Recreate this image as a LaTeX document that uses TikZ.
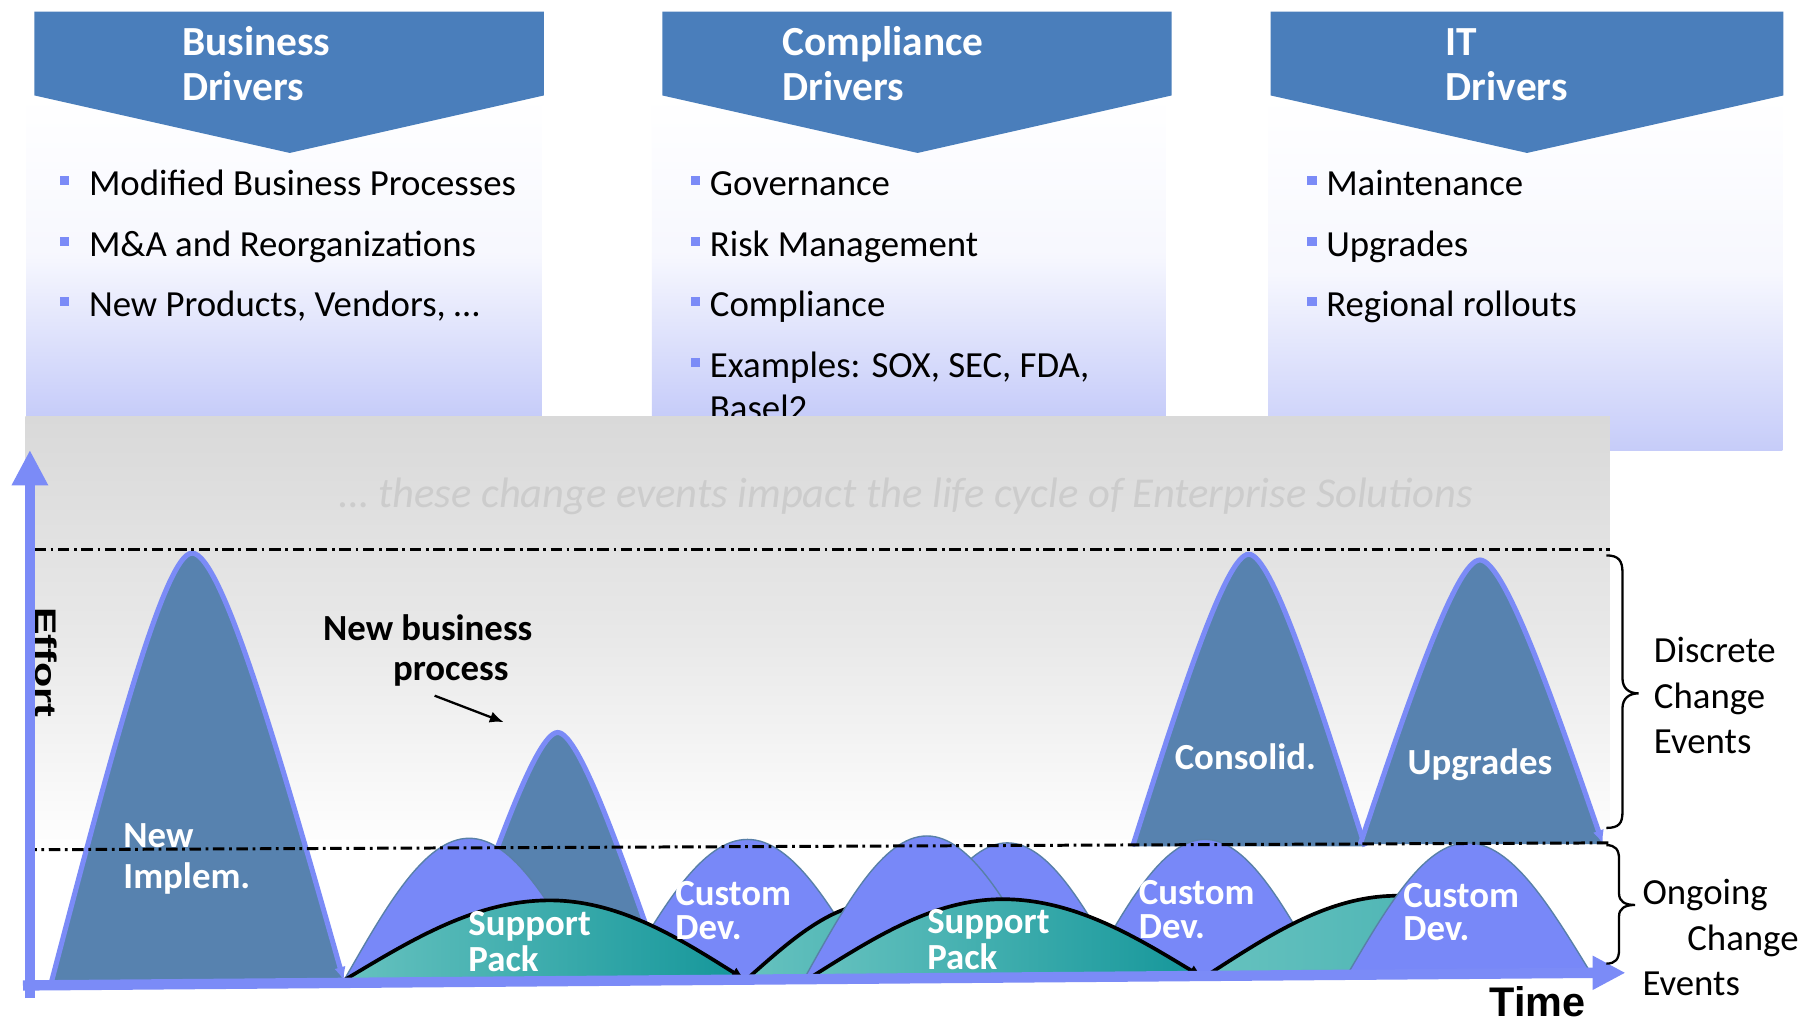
\documentclass[tikz,border=0pt]{standalone}
\usepackage{fontspec}
\setmainfont{Carlito}
\newfontfamily\arialf{Liberation Sans}
\usetikzlibrary{arrows.meta}
\definecolor{chev}{RGB}{74,126,187}
\definecolor{lav}{RGB}{198,204,249}
\definecolor{darkhump}{RGB}{87,130,175}
\definecolor{hline}{RGB}{123,139,247}
\definecolor{lighthump}{RGB}{120,136,248}
\definecolor{lightedge}{RGB}{88,128,168}
\definecolor{tealL}{RGB}{102,194,191}
\definecolor{tealR}{RGB}{20,150,154}
\definecolor{bandtop}{RGB}{217,217,217}
\definecolor{bandtxt}{RGB}{204,204,204}
\newcommand\humpgen[9]{%
  \pgfmathsetmacro\hpAx{#3+#8*(#4-#3)}%
  \pgfmathsetmacro\hpAy{#6+#9*(#7-#6)}%
  \pgfmathsetmacro\hpBx{#4-\hq*(#4-#3)}%
  \pgfmathsetmacro\hpCx{#4+\hq*(#5-#4)}%
  \pgfmathsetmacro\hpDx{#5-#8*(#5-#4)}%
  \path[#1] (#3,#6) .. controls (\hpAx,\hpAy) and (\hpBx,#7) .. (#4,#7) .. controls (\hpCx,#7) and (\hpDx,\hpAy) .. (#5,#6) -- cycle;
  \path[#2] (#3,#6) .. controls (\hpAx,\hpAy) and (\hpBx,#7) .. (#4,#7) .. controls (\hpCx,#7) and (\hpDx,\hpAy) .. (#5,#6);
}
\newcommand\humpD[7]{\def\hq{0.2}\humpgen{#1}{#2}{#3}{#4}{#5}{#6}{#7}{0.4}{0.5}}
\newcommand\humpS[7]{\def\hq{0.36}\humpgen{#1}{#2}{#3}{#4}{#5}{#6}{#7}{0.33}{0.51}}
\tikzset{
  title/.style={text=white, font=\fontsize{18}{20}\selectfont\bfseries, anchor=base west, inner sep=0},
  item/.style={font=\fontsize{16}{18}\selectfont, anchor=base west, inner sep=0},
  blt/.style={fill=hline},
  hlab/.style={text=white, font=\fontsize{16}{#1}\selectfont\bfseries, align=left, inner sep=0, anchor=west},
  hlab/.default=15,
  blk/.style={font=\fontsize{16}{18}\selectfont\bfseries, inner sep=0, anchor=base},
  side/.style={font=\fontsize{16}{18}\selectfont, inner sep=0, anchor=base west},
  axlab/.style={font=\arialf\bfseries\fontsize{18}{20}\selectfont, inner sep=0},
  dashdot/.style={line width=1.3pt, dash pattern=on 5pt off 2pt on 1.2pt off 2pt},
  darkedge/.style={draw=hline, line width=2.2pt},
  lightline/.style={draw=lightedge, line width=0.6pt},
  tealline/.style={draw=black, line width=1.6pt},
  tip/.style={-{Latex[length=6pt,width=5pt]}},
  bracel/.style={draw=black, line width=1pt},
}
\begin{document}
\begin{tikzpicture}[x=0.5pt,y=-0.5pt]
\useasboundingbox (0,0) rectangle (1568,884);
\fill[white] (0,0) rectangle (1568,884);

% ---- header boxes ----
\shade[top color=white, bottom color=lav, middle color=white!85!lav] (23,83) rectangle (471,362);
\shade[top color=white, bottom color=lav, middle color=white!85!lav] (567,83) rectangle (1014,362);
\shade[top color=white, bottom color=lav, middle color=white!85!lav] (1103,83) rectangle (1550,392);

\fill[chev] (30,10) -- (473,10) -- (473,83) -- (252,133) -- (30,83) -- cycle;
\fill[chev] (576,10) -- (1019,10) -- (1019,83) -- (798,133) -- (576,83) -- cycle;
\fill[chev] (1105,10) -- (1551,10) -- (1551,83) -- (1328,133) -- (1105,83) -- cycle;

\node[title] (bd1) at (158,48) {Business};
\node[title] (bd2) at (158,87) {Drivers};
\node[title] (cd1t) at (680,48) {Compliance};
\node[title] (cd2t) at (680,87) {Drivers};
\node[title] (it1) at (1257,48) {IT};
\node[title] (it2) at (1257,87) {Drivers};

\foreach \yy in {153,206,258} {\fill[blt] (52,\yy) rectangle (60,\yy+8);}
\node[item] (b1) at (77,170) {Modified Business Processes};
\node[item] (b2) at (77,223) {M\&A and Reorganizations};
\node[item] (b3) at (77,275) {New Products, Vendors, …};

\foreach \yy in {153,206,258,311} {\fill[blt] (601,\yy) rectangle (609,\yy+8);}
\node[item] (c1) at (617,170) {Governance};
\node[item] (c2) at (617,223) {Risk Management};
\node[item] (c3) at (617,275) {Compliance};
\node[item] (c4) at (617,328) {Examples: SOX, SEC, FDA,};
\node[item] (c5) at (617,366) {Basel2};

\foreach \yy in {153,206,258} {\fill[blt] (1137,\yy) rectangle (1145,\yy+8);}
\node[item] (i1) at (1153,170) {Maintenance};
\node[item] (i2) at (1153,223) {Upgrades};
\node[item] (i3) at (1153,275) {Regional rollouts};

% ---- gray band ----
\shade[top color=bandtop, bottom color=white, middle color=bandtop!60!white] (22,362) rectangle (1400,742);
\node[font=\fontsize{18.5}{20}\selectfont\itshape, text=bandtxt, anchor=base, inner sep=0] (band) at (788,441)
  {… these change events impact the life cycle of Enterprise Solutions};

% ---- humps (back to front) ----
\humpD{fill=darkhump}{darkedge}{985}{1086}{1187}{736}{482}
\humpD{fill=darkhump}{darkedge,tip}{1183}{1287}{1394}{734}{487}
\humpD{fill=darkhump}{darkedge,tip}{45}{167}{299}{853}{481}
\humpD{fill=darkhump}{darkedge}{392}{485}{578}{851}{637}
\humpS{fill=lighthump}{lightline}{300}{408}{516}{851}{729}
\humpS{fill=lighthump}{lightline}{540}{650}{760}{851}{730}
\humpS{left color=tealL,right color=tealR}{tealline,tip}{300}{478}{648}{852}{783}
\humpS{left color=tealL,right color=tealR!60!tealL}{tealline}{650}{765}{880}{851}{785}
\humpS{fill=lighthump}{lightline}{774}{876}{978}{850}{733}
\humpS{fill=lighthump}{lightline}{700}{806}{912}{850}{727}
\humpS{fill=lighthump}{lightline}{945}{1048}{1151}{849}{730}
\humpS{left color=tealL,right color=tealR}{tealline,tip}{705}{872}{1046}{850}{782}
\humpS{left color=tealL,right color=tealR!50!tealL}{tealline}{1050}{1215}{1380}{848}{779}
\humpS{fill=lighthump}{lightline}{1172}{1276}{1384}{847}{733}

% ---- dash-dot lines ----
\draw[dashdot] (30,478) -- (1400,478);
\draw[dashdot] (22,739) -- (1400,733);

% ---- axes ----
\node[axlab, rotate=-90] (effort) at (40,576) {\scalebox{1}[0.72]{Effort}};
\draw[hline, line width=4.5pt] (26,868) -- (26,418);
\fill[hline] (10,422) -- (26,392) -- (42,422) -- cycle;
\draw[hline, line width=4.5pt] (20,857) -- (1388,846);
\fill[hline] (1385,831) -- (1413,846) -- (1385,861) -- cycle;

\node[axlab, anchor=base west] (time) at (1295,884) {Time};

% ---- braces ----
\draw[bracel] (1397,483) .. controls (1408,483) and (1411,488) .. (1411,498) -- (1411,590)
  .. controls (1411,598) and (1416,603) .. (1425,603) .. controls (1416,603) and (1411,608) .. (1411,616)
  -- (1411,706) .. controls (1411,716) and (1408,720) .. (1397,720);
\draw[bracel] (1397,735) .. controls (1405,735) and (1408,739) .. (1408,747) -- (1408,777)
  .. controls (1408,784) and (1413,787) .. (1422,787) .. controls (1413,787) and (1408,790) .. (1408,797)
  -- (1408,826) .. controls (1408,834) and (1405,838) .. (1397,838);

\node[side] (d1) at (1438,576) {Discrete};
\node[side] (d2) at (1438,616) {Change};
\node[side] (d3) at (1438,655) {Events};
\node[side] (o1) at (1428,787) {Ongoing};
\node[side] (o2) at (1467,827) {Change};
\node[side] (o3) at (1428,866) {Events};

% ---- labels ----
\node[blk] (nbp1) at (372,557) {New business};
\node[blk] (nbp2) at (392,592) {process};
\coordinate (nbpA) at (378,605);
\coordinate (nbpB) at (438,628);
\draw[line width=1pt, tip] (nbpA) -- (nbpB);

\node[hlab=17.5] (lni) at (107,747) {New\\Implem.};
\node[hlab=15.5] (lsp1) at (407,819) {Support\\Pack};
\node[hlab=15.5] (lsp2) at (806,817) {Support\\Pack};
\node[hlab=14.5] (lcd1) at (587,792) {Custom\\Dev.};
\node[hlab=14.5] (lcd2) at (990,791) {Custom\\Dev.};
\node[hlab=14.5] (lcd3) at (1220,793) {Custom\\Dev.};
\node[text=white, font=\fontsize{16}{18}\selectfont\bfseries, inner sep=0] (lcons) at (1083,658) {Consolid.};
\node[text=white, font=\fontsize{16}{18}\selectfont\bfseries, inner sep=0] (lupg) at (1287,665) {Upgrades};
\end{tikzpicture}
\end{document}
